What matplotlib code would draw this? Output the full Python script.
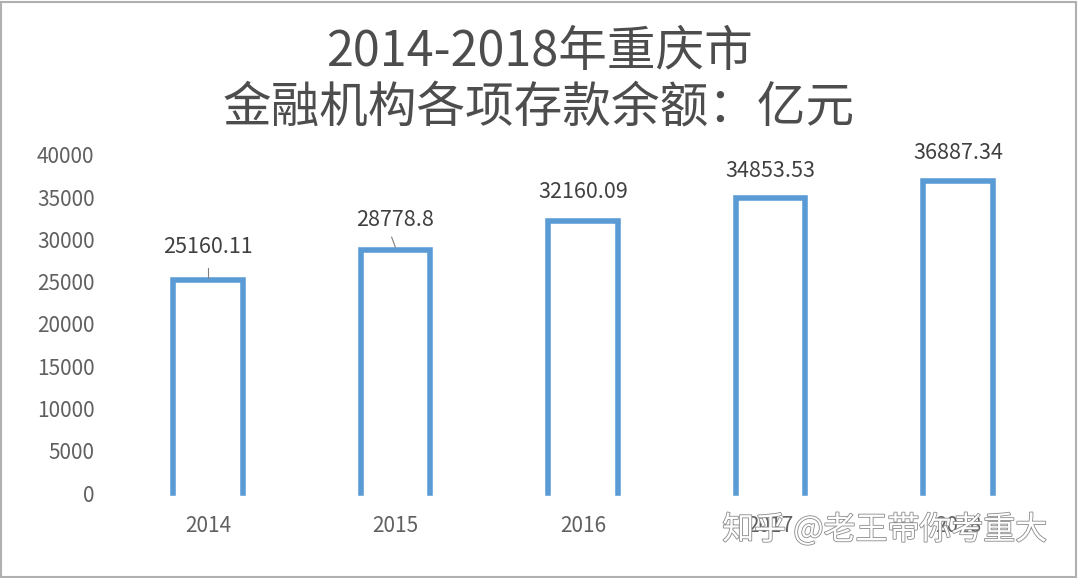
import numpy as np
import matplotlib
matplotlib.use("Agg")
import matplotlib.pyplot as plt
import matplotlib.patheffects as pe
from matplotlib.patches import Rectangle

plt.rcParams['font.family'] = ['Noto Sans CJK SC', 'DejaVu Sans']

years = ['2014', '2015', '2016', '2017', '2018']
deposits = [25160.11, 28778.8, 32160.09, 34853.53, 36887.34]
labels = ['25160.11', '28778.8', '32160.09', '34853.53', '36887.34']
yticks = [0, 5000, 10000, 15000, 20000, 25000, 30000, 35000, 40000]

blue = '#5B9BD5'

fig = plt.figure(figsize=(10.78, 5.78), dpi=100)
ax = fig.add_axes([114 / 1078, 1 - 493 / 578, 938 / 1078, 338 / 578])

x = np.arange(len(years))
bars = ax.bar(x, deposits, width=0.37, color='none', edgecolor='none')
# outline with open bottom, like the original
for b in bars:
    x0, w, h = b.get_x(), b.get_width(), b.get_height()
    ax.plot([x0, x0, x0 + w, x0 + w], [0, h, h, 0], color=blue, lw=4.0,
            solid_joinstyle='miter', clip_on=False)

ax.set_xlim(-0.5, len(years) - 0.5)
ax.set_ylim(0, 40000)
ax.set_xticks(x)
ax.set_xticklabels(years)
ax.set_yticks(yticks)
ax.tick_params(length=0, labelsize=15, colors='#606060', pad=14)
ax.tick_params(axis='x', pad=16)
for s in ax.spines.values():
    s.set_visible(False)

# data labels (2014 and 2015 have leader lines)
offsets = [3900, 3500, 3450, 3250, 3350]
for i, (v, lab, off) in enumerate(zip(deposits, labels, offsets)):
    ax.text(i, v + off, lab, ha='center', va='center', fontsize=15.5, color='#404040')
    if i < 2:
        ax.plot([i, i - 0.02 * i], [v + 300, v + 1500], color='#7f7f7f', lw=0.8, clip_on=False)

fig.text(0.5, 1 - 52 / 578, '2014-2018年重庆市', ha='center', va='center',
         fontsize=35, color='#4d4d4d', fontweight='light')
fig.text(0.5, 1 - 109 / 578, '金融机构各项存款余额：亿元', ha='center', va='center',
         fontsize=35, color='#4d4d4d', fontweight='light')

# watermark
fig.text(885 / 1078, 1 - 530 / 578, '知乎 @老王带你考重大', ha='center', va='center',
         fontsize=23, color='white',
         path_effects=[pe.withStroke(linewidth=1.2, foreground='#8a8a8a')])

fig.patches.append(Rectangle((0.001, 0.002), 0.997, 0.995, transform=fig.transFigure,
                             fill=False, edgecolor='#b0b0b0', lw=1.5))

fig.savefig('out.png', dpi=100, facecolor='white')
